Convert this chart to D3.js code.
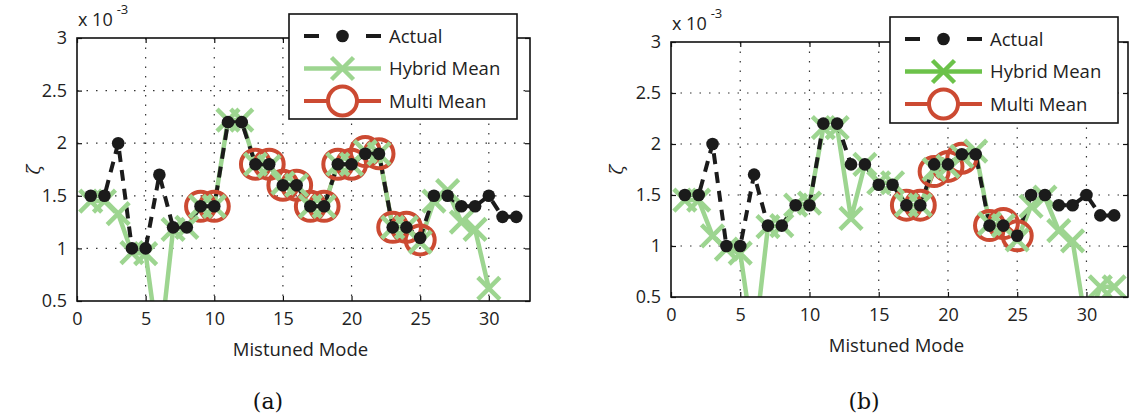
<!DOCTYPE html>
<html>
<head>
<meta charset="utf-8">
<script src="https://cdn.jsdelivr.net/npm/d3@7"></script>
<style>
  body { margin: 0; background: #fff; }
  svg { display: block; }
  .tick-label { font-family: "Open Sans", sans-serif; font-size: 18px; fill: #222; }
  .axis-title { font-family: "Open Sans", sans-serif; font-size: 18.5px; fill: #222; }
  .legend-text { font-family: "Open Sans", sans-serif; font-size: 18.5px; fill: #222; }
  .caption { font-family: "DejaVu Serif", "Liberation Serif", serif; font-size: 22px; fill: #111; }
</style>
</head>
<body>
<svg id="chart" width="1135" height="419"></svg>
<script>
// mistuned mode numbers (x)
const modes = [1,2,3,4,5,6,7,8,9,10,11,12,13,14,15,16,17,18,19,20,21,22,23,24,25,26,27,28,29,30,31,32];

// damping ratio, x 10^-3
const actual = [1.5,1.5,2.0,1.0,1.0,1.7,1.2,1.2,1.4,1.4,2.2,2.2,1.8,1.8,1.6,1.6,1.4,1.4,1.8,1.8,1.9,1.9,1.2,1.2,1.1,1.5,1.5,1.4,1.4,1.5,1.3,1.3];

const hybridA = [1.45,1.45,1.33,0.96,0.95,0.0,1.18,1.2,1.4,1.4,2.22,2.22,1.8,1.78,1.62,1.6,1.4,1.4,1.8,1.8,1.92,1.9,1.2,1.2,1.06,1.45,1.55,1.25,1.18,0.62,null,null];
const multiA = [null,null,null,null,null,null,null,null,1.4,1.4,null,null,1.8,1.8,1.6,1.6,1.4,1.4,1.8,1.8,1.92,1.9,1.2,1.2,1.08,null,null,null,null,null,null,null];

const hybridB = [1.45,1.45,1.1,0.97,0.93,0.0,1.19,1.2,1.4,1.42,2.16,2.16,1.27,1.8,1.62,1.62,1.4,1.4,1.75,1.78,1.88,1.93,1.22,1.2,1.06,1.39,1.48,1.15,1.05,0.2,0.6,0.6];
const multiB = [null,null,null,null,null,null,null,null,null,null,null,null,null,null,null,null,1.4,1.4,1.73,1.78,1.86,null,1.2,1.22,1.1,null,null,null,null,null,null,null];

const xTicks = [0,5,10,15,20,25,30];
const yTicks = [0.5,1,1.5,2,2.5,3];
const legendLabels = ["Actual","Hybrid Mean","Multi Mean"];

const BLACK = "#1b1b1b", GREEN = "#9dd590", RED = "#cc4a32";

const svg = d3.select("#chart");

function drawPanel(p) {
  const g = svg.append("g");
  const x = d3.scaleLinear().domain([0, 33]).range([p.left, p.right]);
  const y = d3.scaleLinear().domain([0.5, 3]).range([p.bottom, p.top]);

  const clipId = "clip-" + p.id;
  svg.append("clipPath").attr("id", clipId)
    .append("rect")
    .attr("x", p.left).attr("y", p.top)
    .attr("width", p.right - p.left).attr("height", p.bottom - p.top);

  // dotted grid
  g.selectAll(".vgrid").data(xTicks.filter(t => t > 0)).enter().append("line")
    .attr("x1", d => x(d)).attr("x2", d => x(d))
    .attr("y1", p.top).attr("y2", p.bottom)
    .attr("stroke", "#333").attr("stroke-width", 1.2).attr("stroke-dasharray", "1.5,8");
  g.selectAll(".hgrid").data(yTicks.filter(t => t > 0.5 && t < 3)).enter().append("line")
    .attr("x1", p.left).attr("x2", p.right)
    .attr("y1", d => y(d)).attr("y2", d => y(d))
    .attr("stroke", "#333").attr("stroke-width", 1.2).attr("stroke-dasharray", "1.5,8");

  const series = modes.map((m, i) => ({m, a: actual[i], h: p.hybrid[i], r: p.multi[i]}));
  const inside = v => v != null && v >= 0.5 && v <= 3;

  const plot = g.append("g");
  const lineClip = plot.append("g").attr("clip-path", "url(#" + clipId + ")");

  // multi mean (bottom layer)
  lineClip.append("path")
    .datum(series)
    .attr("d", d3.line().defined(d => d.r != null).x(d => x(d.m)).y(d => y(d.r)))
    .attr("fill", "none").attr("stroke", RED).attr("stroke-width", 4);
  plot.selectAll(".multi").data(series.filter(d => inside(d.r))).enter().append("circle")
    .attr("cx", d => x(d.m)).attr("cy", d => y(d.r)).attr("r", 14.5)
    .attr("fill", "none").attr("stroke", RED).attr("stroke-width", 4);

  // hybrid mean
  lineClip.append("path")
    .datum(series)
    .attr("d", d3.line().defined(d => d.h != null).x(d => x(d.m)).y(d => y(d.h)))
    .attr("fill", "none").attr("stroke", GREEN).attr("stroke-width", 4.5);
  const s = 11;
  plot.selectAll(".hyb").data(series.filter(d => inside(d.h))).enter().append("path")
    .attr("d", d => {
      const cx = x(d.m), cy = y(d.h);
      return `M${cx - s},${cy - s}L${cx + s},${cy + s}M${cx - s},${cy + s}L${cx + s},${cy - s}`;
    })
    .attr("stroke", GREEN).attr("stroke-width", 4.5).attr("fill", "none")
    .attr("clip-path", "url(#" + clipId + ")");

  // actual (top)
  lineClip.append("path")
    .datum(series)
    .attr("d", d3.line().x(d => x(d.m)).y(d => y(d.a)))
    .attr("fill", "none").attr("stroke", BLACK).attr("stroke-width", 4)
    .attr("stroke-dasharray", "11,8");
  plot.selectAll(".act").data(series).enter().append("circle")
    .attr("cx", d => x(d.m)).attr("cy", d => y(d.a)).attr("r", 6.3)
    .attr("fill", BLACK);

  // frame and inward ticks
  g.append("rect")
    .attr("x", p.left).attr("y", p.top)
    .attr("width", p.right - p.left).attr("height", p.bottom - p.top)
    .attr("fill", "none").attr("stroke", "#111").attr("stroke-width", 1.6);

  const axB = g.append("g").attr("transform", `translate(0,${p.bottom})`)
    .call(d3.axisBottom(x).tickValues(xTicks).tickSizeInner(-5).tickSizeOuter(0).tickPadding(11));
  const axT = g.append("g").attr("transform", `translate(0,${p.top})`)
    .call(d3.axisTop(x).tickValues(xTicks).tickSizeInner(-5).tickSizeOuter(0).tickFormat(""));
  const axL = g.append("g").attr("transform", `translate(${p.left},0)`)
    .call(d3.axisLeft(y).tickValues(yTicks).tickSizeInner(-5).tickSizeOuter(0).tickPadding(10).tickFormat(d3.format("~g")));
  const axR = g.append("g").attr("transform", `translate(${p.right},0)`)
    .call(d3.axisRight(y).tickValues(yTicks).tickSizeInner(-5).tickSizeOuter(0).tickFormat(""));
  [axB, axT, axL, axR].forEach(a => {
    a.select(".domain").remove();
    a.selectAll(".tick line").attr("stroke", "#111").attr("stroke-width", 1.2);
    a.selectAll("text").attr("class", "tick-label").attr("fill", null).attr("font-size", null).attr("font-family", null);
  });

  // exponent label
  const ex = g.append("text").attr("class", "tick-label")
    .attr("x", p.left + 1).attr("y", p.top - 12);
  ex.append("tspan").text("x 10");
  ex.append("tspan").attr("dx", 4).attr("dy", -12).attr("font-size", 13).text("-3");

  // y label (zeta, rotated)
  g.append("text")
    .attr("transform", `translate(${p.yLabelX},${(p.top + p.bottom) / 2}) rotate(-90)`)
    .attr("text-anchor", "middle")
    .attr("font-family", "DejaVu Serif, serif").attr("font-style", "italic")
    .attr("font-size", 18).attr("fill", "#222")
    .text("ζ");

  g.append("text").attr("class", "axis-title")
    .attr("x", (p.left + p.right) / 2 - 3).attr("y", p.bottom + 55)
    .attr("text-anchor", "middle").text("Mistuned Mode");

  g.append("text").attr("class", "caption")
    .attr("x", p.captionX).attr("y", 409)
    .attr("text-anchor", "middle").text(p.caption);

  // legend
  const L = p.legend;
  const lg = g.append("g");
  lg.append("rect")
    .attr("x", L.x).attr("y", L.y).attr("width", L.w).attr("height", L.h)
    .attr("fill", "#fff").attr("stroke", "#111").attr("stroke-width", 1.6);
  const x0 = L.x + 15, x1 = L.x + 92, xm = (x0 + x1) / 2;
  const rowY = i => L.y + 22 + i * 32.5;

  // actual sample
  lg.append("line").attr("x1", x0).attr("x2", x0 + 15).attr("y1", rowY(0)).attr("y2", rowY(0))
    .attr("stroke", BLACK).attr("stroke-width", 4);
  lg.append("line").attr("x1", x1 - 15).attr("x2", x1).attr("y1", rowY(0)).attr("y2", rowY(0))
    .attr("stroke", BLACK).attr("stroke-width", 4);
  lg.append("circle").attr("cx", xm).attr("cy", rowY(0)).attr("r", 6.3).attr("fill", BLACK);

  // hybrid sample
  lg.append("line").attr("x1", x0).attr("x2", x1).attr("y1", rowY(1)).attr("y2", rowY(1))
    .attr("stroke", L.green).attr("stroke-width", 4.5);
  lg.append("path")
    .attr("d", `M${xm - s},${rowY(1) - s}L${xm + s},${rowY(1) + s}M${xm - s},${rowY(1) + s}L${xm + s},${rowY(1) - s}`)
    .attr("stroke", L.green).attr("stroke-width", 4.5);

  // multi sample
  lg.append("line").attr("x1", x0).attr("x2", x1).attr("y1", rowY(2)).attr("y2", rowY(2))
    .attr("stroke", RED).attr("stroke-width", 4);
  lg.append("circle").attr("cx", xm).attr("cy", rowY(2)).attr("r", 14.5)
    .attr("fill", "#fff").attr("stroke", RED).attr("stroke-width", 4);

  lg.selectAll(".lt").data(legendLabels).enter().append("text")
    .attr("class", "legend-text")
    .attr("x", L.x + 100).attr("y", (d, i) => rowY(i) + 6.5)
    .text(d => d);
}

drawPanel({
  id: "a", left: 77, right: 530, top: 38, bottom: 301,
  hybrid: hybridA, multi: multiA, yLabelX: 40, captionX: 268, caption: "(a)",
  legend: {x: 289, y: 14, w: 228, h: 105, green: GREEN}
});
drawPanel({
  id: "b", left: 671, right: 1128, top: 42, bottom: 297,
  hybrid: hybridB, multi: multiB, yLabelX: 623, captionX: 864, caption: "(b)",
  legend: {x: 890, y: 17, w: 228, h: 106, green: "#6cc24a"}
});
</script>
</body>
</html>
